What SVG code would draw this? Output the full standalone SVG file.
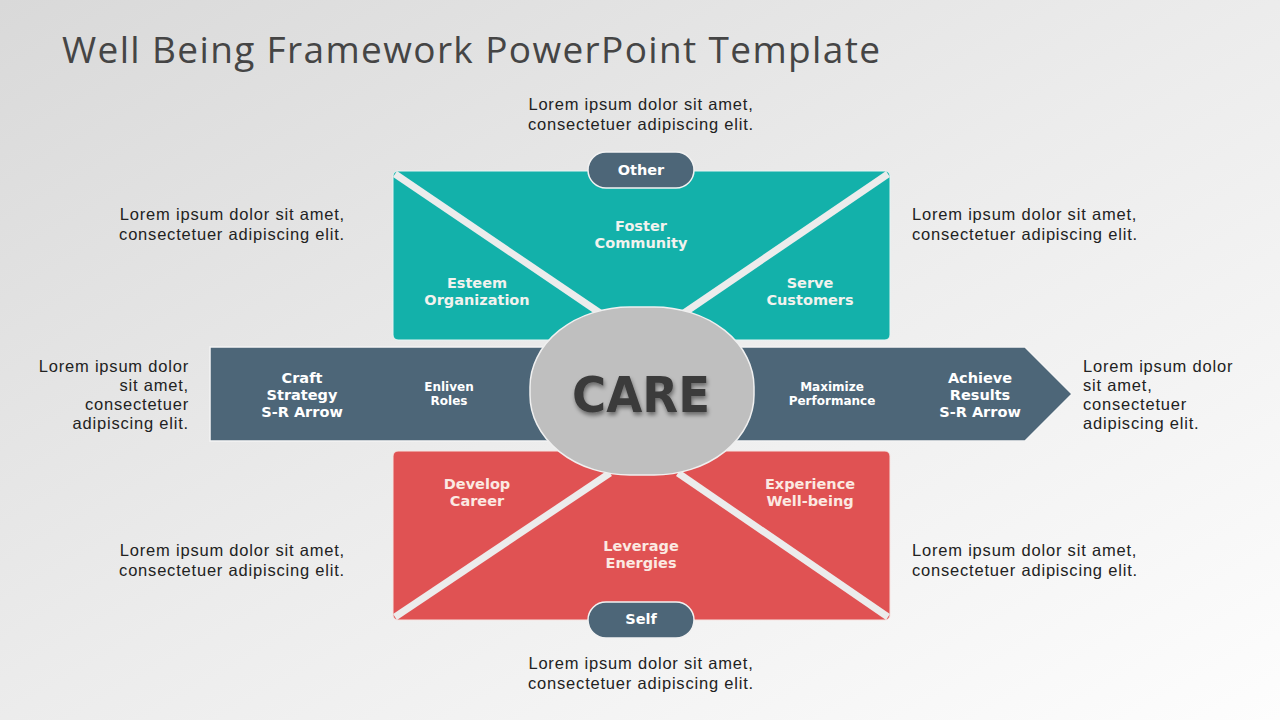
<svg xmlns="http://www.w3.org/2000/svg" width="1280" height="720" viewBox="0 0 1280 720">
<defs>
<linearGradient id="bg" x1="0" y1="0" x2="1" y2="1">
<stop offset="0" stop-color="#d9d9d9"/>
<stop offset="0.5" stop-color="#ececec"/>
<stop offset="1" stop-color="#fdfdfd"/>
</linearGradient>
<filter id="sh" x="-20%" y="-20%" width="140%" height="160%">
<feDropShadow dx="1" dy="3" stdDeviation="2" flood-color="#000" flood-opacity="0.45"/>
</filter>
<style>
.lorem{font-family:"Liberation Sans",Arial,sans-serif;font-size:16.5px;letter-spacing:0.8px;fill:#222}
.lbl{font-family:"DejaVu Sans",Verdana,sans-serif;font-weight:bold;font-size:14.5px;text-anchor:middle}
.tl{fill:#f2f2ee}
.rl{fill:#fbe9e2}
.al{fill:#ffffff}
.sm{font-size:12px}
.div{stroke:#ececec;stroke-width:7;stroke-linecap:butt}
.pill{fill:#4d6678;stroke:#f2f2f2;stroke-width:1.5}
</style>
</defs>
<rect width="1280" height="720" fill="url(#bg)"/>
<text x="62" y="63" font-family="Open Sans,Liberation Sans,sans-serif" font-size="37" fill="#454545" textLength="818">Well Being Framework PowerPoint Template</text>

<g id="top-panel">
<rect x="393" y="171" width="497" height="169" rx="5" fill="#13b1aa" stroke="#e8f4f3" stroke-width="1"/>
<line class="div" x1="395" y1="174" x2="600" y2="313"/>
<line class="div" x1="888" y1="174" x2="684" y2="313"/>
<text class="lbl tl" x="641" y="231">Foster<tspan x="641" dy="17">Community</tspan></text>
<text class="lbl tl" x="477" y="288">Esteem<tspan x="477" dy="17">Organization</tspan></text>
<text class="lbl tl" x="810" y="288">Serve<tspan x="810" dy="17">Customers</tspan></text>
</g>

<g id="bottom-panel">
<rect x="393" y="451" width="497" height="169" rx="5" fill="#e05253" stroke="#f6e4e2" stroke-width="1"/>
<line class="div" x1="610" y1="473" x2="395" y2="617"/>
<line class="div" x1="678" y1="473" x2="888" y2="617"/>
<text class="lbl rl" x="477" y="489">Develop<tspan x="477" dy="17">Career</tspan></text>
<text class="lbl rl" x="810" y="489">Experience<tspan x="810" dy="17">Well-being</tspan></text>
<text class="lbl rl" x="641" y="551">Leverage<tspan x="641" dy="17">Energies</tspan></text>
</g>

<g id="arrow">
<polygon points="210,347 1025,347 1072,394 1025,441 210,441" fill="#4d6678" stroke="#f4f4f4" stroke-width="1.5"/>
<text class="lbl al" x="302" y="383">Craft<tspan x="302" dy="17">Strategy</tspan><tspan x="302" dy="17">S-R Arrow</tspan></text>
<text class="lbl al sm" x="449" y="391">Enliven<tspan x="449" dy="14">Roles</tspan></text>
<text class="lbl al sm" x="832" y="391">Maximize<tspan x="832" dy="14">Performance</tspan></text>
<text class="lbl al" x="980" y="383">Achieve<tspan x="980" dy="17">Results</tspan><tspan x="980" dy="17">S-R Arrow</tspan></text>
</g>

<g id="care">
<rect x="530" y="307" width="224" height="168" rx="100" ry="80" fill="#bfbfbf" stroke="#f0f0f0" stroke-width="1.5"/>
<text x="572" y="412" font-family="DejaVu Sans,Verdana,sans-serif" font-weight="bold" font-size="50" fill="#3b3b3b" textLength="138" lengthAdjust="spacingAndGlyphs" filter="url(#sh)">CARE</text>
</g>

<g id="pill-other">
<rect class="pill" x="588" y="152" width="106" height="36" rx="18"/>
<text class="lbl al" x="641" y="175" font-size="13">Other</text>
</g>
<g id="pill-self">
<rect class="pill" x="588" y="602" width="106" height="36" rx="18"/>
<text class="lbl al" x="641" y="624" font-size="13">Self</text>
</g>

<g id="texts">
<text class="lorem" x="641" y="110" text-anchor="middle">Lorem ipsum dolor sit amet,<tspan x="641" dy="20">consectetuer adipiscing elit.</tspan></text>
<text class="lorem" x="345" y="220" text-anchor="end">Lorem ipsum dolor sit amet,<tspan x="345" dy="20">consectetuer adipiscing elit.</tspan></text>
<text class="lorem" x="912" y="220">Lorem ipsum dolor sit amet,<tspan x="912" dy="20">consectetuer adipiscing elit.</tspan></text>
<text class="lorem" x="189" y="372" text-anchor="end">Lorem ipsum dolor<tspan x="189" dy="19">sit amet,</tspan><tspan x="189" dy="19">consectetuer</tspan><tspan x="189" dy="19">adipiscing elit.</tspan></text>
<text class="lorem" x="1083" y="372">Lorem ipsum dolor<tspan x="1083" dy="19">sit amet,</tspan><tspan x="1083" dy="19">consectetuer</tspan><tspan x="1083" dy="19">adipiscing elit.</tspan></text>
<text class="lorem" x="345" y="556" text-anchor="end">Lorem ipsum dolor sit amet,<tspan x="345" dy="20">consectetuer adipiscing elit.</tspan></text>
<text class="lorem" x="912" y="556">Lorem ipsum dolor sit amet,<tspan x="912" dy="20">consectetuer adipiscing elit.</tspan></text>
<text class="lorem" x="641" y="669" text-anchor="middle">Lorem ipsum dolor sit amet,<tspan x="641" dy="20">consectetuer adipiscing elit.</tspan></text>
</g>
</svg>
